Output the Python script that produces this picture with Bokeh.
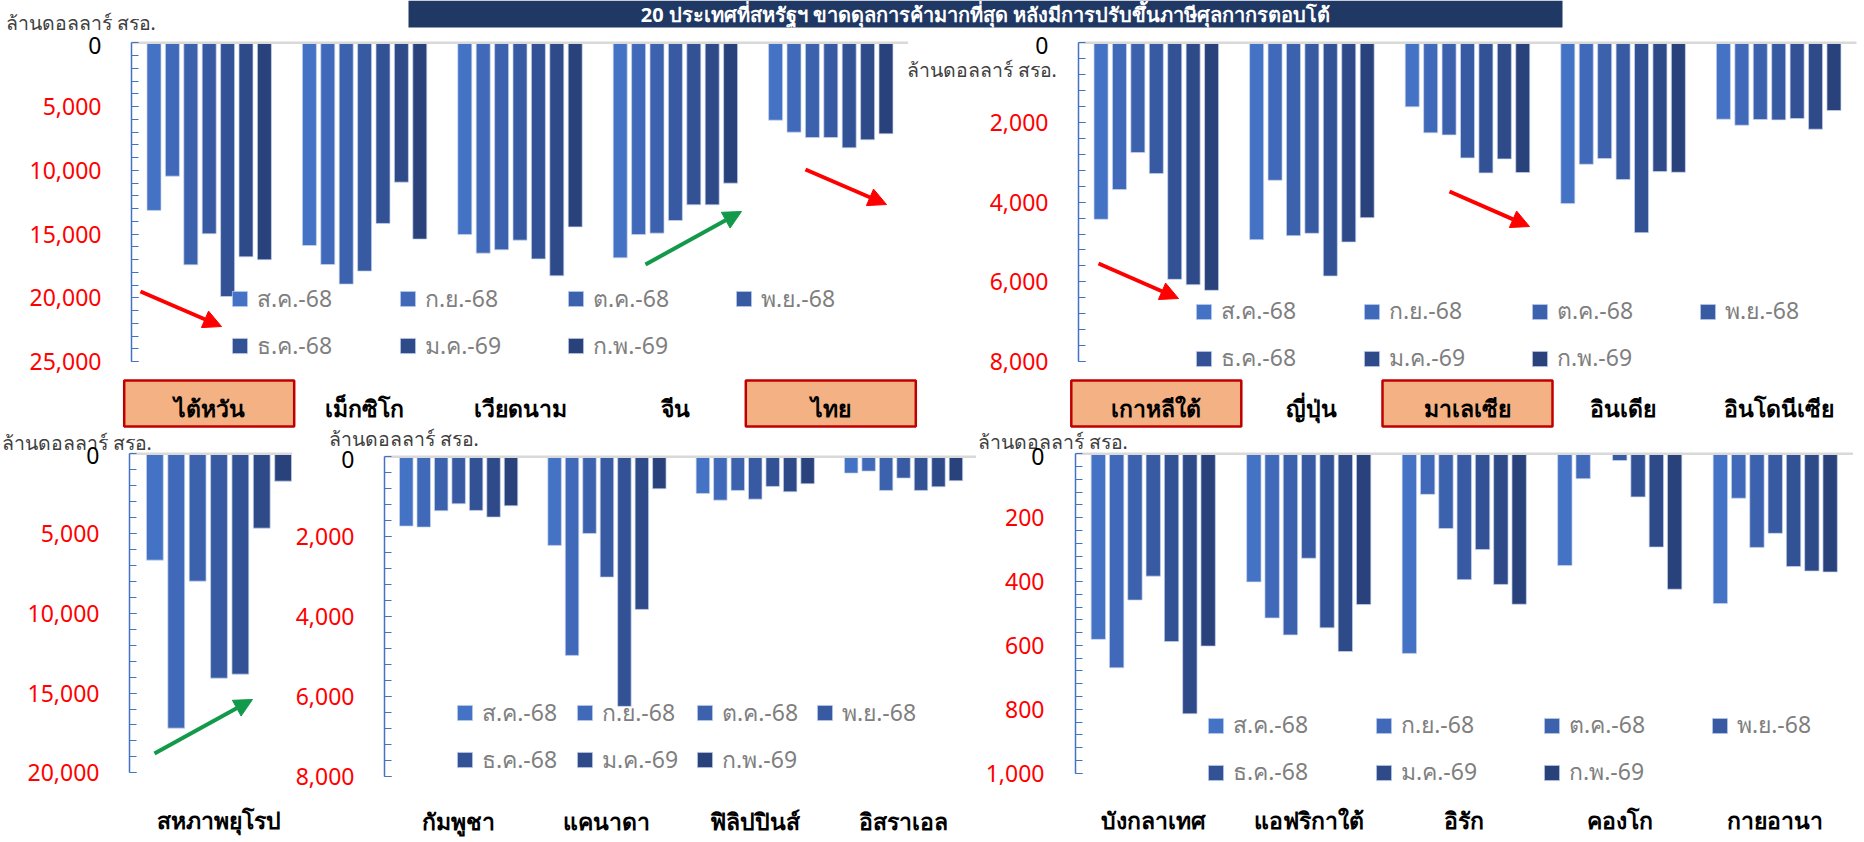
from bokeh.plotting import figure
from bokeh.models import (ColumnDataSource, Range1d, LinearAxis, FixedTicker, Legend, LegendItem,
                          Arrow, NormalHead, NumeralTickFormatter, GridBox)
from bokeh.transform import dodge
from bokeh.layouts import column, row
from bokeh.embed import file_html
from bokeh.resources import INLINE
from bokeh.core.properties import value

# ---------------- data ----------------
months = ["ส.ค.-68", "ก.ย.-68", "ต.ค.-68", "พ.ย.-68", "ธ.ค.-68", "ม.ค.-69", "ก.พ.-69"]
colors = ["#4472C4", "#4069BA", "#3C62AE", "#385AA2", "#335296", "#2F4A89", "#2A427C"]

title_text = "20 ประเทศที่สหรัฐฯ ขาดดุลการค้ามากที่สุด หลังมีการปรับขึ้นภาษีศุลกากรตอบโต้"
unit_text = "ล้านดอลลาร์ สรอ."
highlighted = ["ไต้หวัน", "ไทย", "เกาหลีใต้", "มาเลเซีย"]

cats_a = ["ไต้หวัน", "เม็กซิโก", "เวียดนาม", "จีน", "ไทย"]
taiwan = [13150, 10460, 17420, 14980, 19900, 16790, 17020]
mexico = [15900, 17390, 18930, 17910, 14170, 10930, 15400]
vietnam = [15040, 16500, 16240, 15480, 16950, 18280, 14440]
china = [16870, 15040, 14930, 13940, 12710, 12710, 11010]
thailand = [6070, 7010, 7430, 7430, 8240, 7610, 7140]

cats_b = ["เกาหลีใต้", "ญี่ปุ่น", "มาเลเซีย", "อินเดีย", "อินโดนีเซีย"]
korea = [4430, 3685, 2755, 3283, 5938, 6072, 6214]
japan = [4941, 3451, 4841, 4782, 5854, 5000, 4389]
malaysia = [1608, 2261, 2312, 2889, 3266, 2915, 3258]
india = [4037, 3049, 2906, 3434, 4765, 3233, 3250]
indonesia = [1918, 2069, 1926, 1935, 1901, 2169, 1700]

cats_c = ["สหภาพยุโรป"]
eu = [6667, 17200, 7983, 14065, 13814, 4660, 1714]

cats_d = ["กัมพูชา", "แคนาดา", "ฟิลิปปินส์", "อิสราเอล"]
cambodia = [1737, 1762, 1353, 1177, 1344, 1511, 1228]
canada = [2221, 4977, 1921, 3015, 6255, 3825, 802]
philippines = [919, 1086, 843, 1061, 743, 877, 676]
israel = [409, 359, 843, 534, 843, 752, 601]

cats_e = ["บังกลาเทศ", "แอฟริกาใต้", "อิรัก", "คองโก", "กายอานา"]
bangladesh = [581, 670, 458, 383, 588, 814, 602]
south_africa = [401, 514, 567, 327, 545, 619, 472]
iraq = [625, 127, 234, 394, 300, 409, 471]
congo = [350, 78, float("nan"), 21, 135, 292, 424]
guyana = [469, 139, 293, 249, 353, 367, 370]

# ---------------- style ----------------
FONT = "Noto Sans"
BLUE = "#4472C4"
RED = "#FF0000"
GREEN = "#13994A"
W, H = 1860, 840


def make_panel(cats, series, vmax, major_step, minor_step, fig_left, fig_top, fig_w, fig_h,
               axis_px, cat_px, zero_px, full_px, label_base_px, pitch, bw, standoff,
               legend_xy=None, legend_lw=130):
    mb_left = axis_px - fig_left
    k = (full_px - zero_px) / vmax

    def yv(py):
        return (py - zero_px) / k

    def xv(px):
        return (px - axis_px) / cat_px

    p = figure(width=fig_w, height=fig_h,
               x_range=Range1d(0, xv(fig_left + fig_w)),
               y_range=Range1d(yv(fig_top + fig_h), yv(fig_top)),
               x_axis_location=None, y_axis_location=None,
               toolbar_location=None, output_backend="svg",
               min_border_left=mb_left, min_border_right=0, min_border_top=0, min_border_bottom=0,
               outline_line_color=None, background_fill_color=None, border_fill_color=None)
    p.grid.visible = False

    n = len(cats)
    data = dict(idx=[i + 0.5 for i in range(n)], cat=cats)
    for m in range(7):
        data[f"m{m}"] = [s[m] for s in series]
    src = ColumnDataSource(data)

    renderers = []
    for m in range(7):
        r = p.vbar(x=dodge("idx", (m - 3) * pitch), top=f"m{m}", bottom=0, width=bw, source=src,
                   fill_color=colors[m], line_color="#C9D6EE", line_width=0.7)
        renderers.append(r)

    p.segment(x0=[0], x1=[n], y0=[0], y1=[0], line_color="#D9D9D9", line_width=2.5)

    ax = LinearAxis(bounds=(0, vmax),
                    ticker=FixedTicker(ticks=list(range(major_step, vmax + 1, major_step)),
                                       minor_ticks=list(range(0, vmax + 1, minor_step))),
                    formatter=NumeralTickFormatter(format="0,0"),
                    axis_line_color=BLUE, axis_line_width=1.5,
                    major_tick_line_color=BLUE, minor_tick_line_color=BLUE,
                    major_tick_in=7, major_tick_out=0, minor_tick_in=7, minor_tick_out=0,
                    major_label_text_color=RED, major_label_text_font_size="23px",
                    major_label_text_font=FONT, major_label_standoff=standoff)
    p.add_layout(ax, "left")

    p.text(x="idx", y=yv(label_base_px), text="cat", source=src, text_align="center",
           text_baseline="alphabetic", text_font=value(FONT), text_font_style="bold",
           text_font_size="23px", text_color="black")

    if legend_xy is not None:
        leg = Legend(items=[LegendItem(label=months[m], renderers=[renderers[m]]) for m in range(7)],
                     location=legend_xy, orientation="horizontal", ncols=4,
                     glyph_width=19, glyph_height=19, label_standoff=8, label_width=legend_lw,
                     label_height=26, spacing=11, padding=0, margin=0,
                     border_line_alpha=0, background_fill_alpha=0,
                     label_text_font_size="23px", label_text_color="#7F7F7F", label_text_font=FONT)
        p.add_layout(leg)

    def arrow(p0, p1, color):
        p.add_layout(Arrow(end=NormalHead(size=18, fill_color=color, line_color=color),
                           x_start=xv(p0[0]), y_start=yv(p0[1]), x_end=xv(p1[0]), y_end=yv(p1[1]),
                           line_color=color, line_width=4))

    boxes = [axis_px + (i + 0.5) * cat_px for i, c in enumerate(cats) if c in highlighted]
    return p, arrow, boxes


# ---------------- panels ----------------
pA, arA, boxA = make_panel(cats_a, [taiwan, mexico, vietnam, china, thailand], 25000, 5000, 1000,
                           0, 0, 908, 429, 131, 155.4, 42.3, 361.0, 407,
                           0.1184, 0.0901, 30, legend_xy=(99, 65.5))
arA((140, 291), (221, 326), RED)
arA((805, 169), (886, 204), RED)
arA((645, 264), (741, 211), GREEN)

pB, arB, boxB = make_panel(cats_b, [korea, japan, malaysia, india, indonesia], 8000, 2000, 400,
                           908, 0, 952, 429, 1078, 155.6, 42.3, 361.0, 407,
                           0.1184, 0.0901, 30, legend_xy=(116, 52.7))
arB((1098, 263), (1178, 298), RED)
arB((1449, 191), (1529, 226), RED)

pC, arC, _ = make_panel(cats_c, [eu], 20000, 5000, 1000,
                        0, 429, 292, 411, 129, 179, 453.3, 772.3, 819,
                        0.1194, 0.094, 30)
arC((154, 753), (252, 699), GREEN)

pD, arD, _ = make_panel(cats_d, [cambodia, canada, philippines, israel], 8000, 2000, 400,
                        292, 429, 684, 411, 384, 148.3, 456.3, 775.5, 820,
                        0.1177, 0.091, 30, legend_xy=(71, 62.5), legend_lw=82)

pE, arE, _ = make_panel(cats_e, [bangladesh, south_africa, iraq, congo, guyana], 1000, 200, 40,
                        976, 429, 884, 411, 1075, 155.5, 453.3, 772.7, 819,
                        0.1177, 0.0926, 31, legend_xy=(131, 49.6))

# ---------------- background layer: banner, unit labels, zero labels, highlight boxes ----------------
bg = figure(width=W, height=H, x_range=Range1d(0, W), y_range=Range1d(H, 0),
            x_axis_location=None, y_axis_location=None, toolbar_location=None,
            output_backend="svg", min_border=0, outline_line_color=None,
            background_fill_color=None, border_fill_color="white")
bg.grid.visible = False
bg.quad(left=[408], right=[1562], top=[0], bottom=[27], fill_color="#203864", line_color=None)
bg.text(x=[985], y=[14], text=[title_text], text_align="center", text_baseline="middle",
        text_color="white", text_font_style="bold", text_font_size="20px", text_font=value(FONT))

bx = boxA + boxB
bg.rect(x=bx, y=[403] * len(bx), width=170, height=46,
        fill_color="#F4B183", line_color="#C00000", line_width=2.5)

bg.text(x=[5, 906, 1, 328, 977], y=[22, 69, 442, 438, 441], text=[unit_text] * 5,
        text_align="left", text_baseline="middle", text_color="#404040",
        text_font_size="19.5px", text_font=value(FONT))
bg.text(x=[101, 1048, 99, 354, 1044], y=[45, 45, 455, 459, 456], text=["0"] * 5,
        text_align="right", text_baseline="middle", text_color="black",
        text_font_size="23px", text_font=value(FONT))

panels = column(row(pA, pB), row(pC, pD, pE))
layout = GridBox(children=[(bg, 0, 0), (panels, 0, 0)])
open("out.html", "w").write(file_html(layout, INLINE))
